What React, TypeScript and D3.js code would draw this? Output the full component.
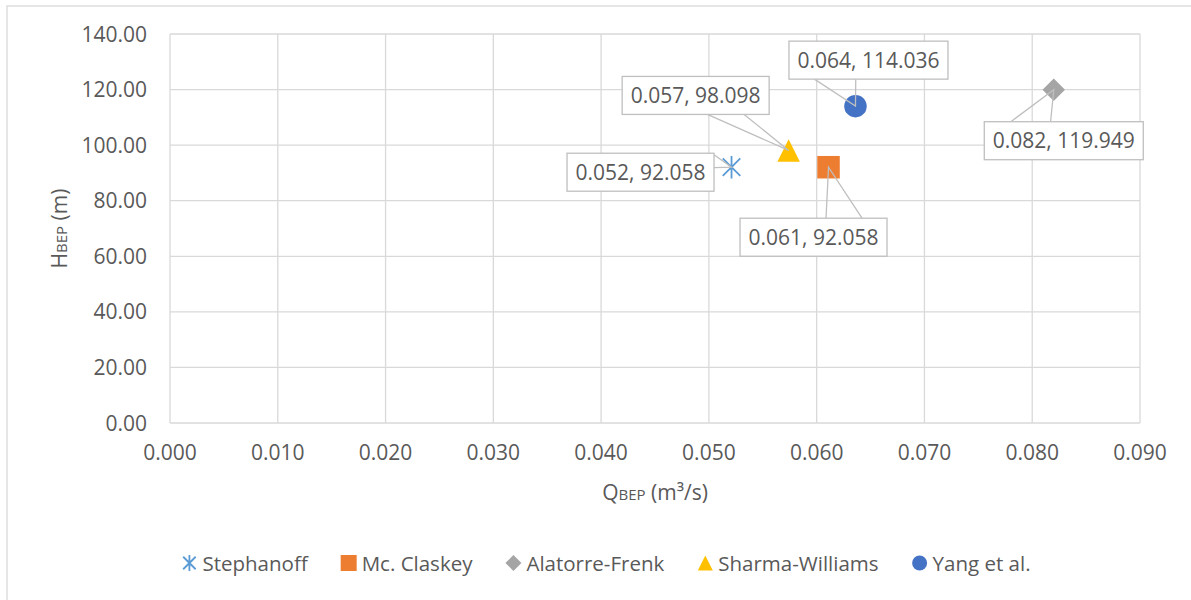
import * as d3 from 'd3';

// series (one point each)
const seriesNames = ['Stephanoff', 'Mc. Claskey', 'Alatorre-Frenk', 'Sharma-Williams', 'Yang et al.'];
const seriesColors = ['#5B9BD5', '#ED7D31', '#A5A5A5', '#FFC000', '#4472C4'];
const seriesShapes = ['star', 'square', 'diamond', 'triangle', 'circle'];
const qBep = [0.0521, 0.0611, 0.082, 0.0574, 0.0636];
const hBep = [92.058, 92.058, 119.949, 98.098, 114.036];

const xTicks = [0, 0.01, 0.02, 0.03, 0.04, 0.05, 0.06, 0.07, 0.08, 0.09];
const yTicks = [0, 20, 40, 60, 80, 100, 120, 140];

// callout placement: box centre offset from the point, wedge side and base fractions
const callouts = [
  { dx: -91, dy: 5, side: 'right', a: 0.04, b: 0.38 },
  { dx: -15, dy: 70, side: 'top', a: 0.585, b: 0.83 },
  { dx: 10, dy: 51, side: 'top', a: 0.167, b: 0.417 },
  { dx: -93, dy: -55, side: 'bottom', a: 0.58, b: 0.83 },
  { dx: 13, dy: -46, side: 'bottom', a: 0.16, b: 0.42 },
];

const W = 1191;
const H = 600;
const FONT = '"Open Sans", "Noto Sans", sans-serif';
const TEXT = '#595959';
const GRID = '#d9d9d9';

const plot = { left: 170, right: 1140, top: 34, bottom: 423 };

let ctx: CanvasRenderingContext2D | null = null;
function measure(text: string, size: number) {
  if (!ctx) ctx = document.createElement('canvas').getContext('2d');
  if (!ctx) return text.length * size * 0.55;
  ctx.font = `${size}px "Open Sans"`;
  return ctx.measureText(text).width;
}

function Marker({ shape, color, cx, cy, s }: { shape: string; color: string; cx: number; cy: number; s: number }) {
  const h = s / 2;
  if (shape === 'circle') return <circle cx={cx} cy={cy} r={h} fill={color} />;
  if (shape === 'square') return <rect x={cx - h} y={cy - h} width={s} height={s} fill={color} />;
  if (shape === 'diamond')
    return <path d={`M${cx},${cy - h}L${cx + h},${cy}L${cx},${cy + h}L${cx - h},${cy}Z`} fill={color} />;
  if (shape === 'triangle')
    return <path d={`M${cx},${cy - h}L${cx + h},${cy + h}L${cx - h},${cy + h}Z`} fill={color} />;
  const d = h * 0.78;
  return (
    <path
      d={`M${cx},${cy - h}V${cy + h}M${cx - d},${cy - d}L${cx + d},${cy + d}M${cx - d},${cy + d}L${cx + d},${cy - d}`}
      stroke={color}
      strokeWidth={1.8}
      fill="none"
    />
  );
}

export default function App() {
  const x = d3.scaleLinear().domain([0, 0.09]).range([plot.left, plot.right]);
  const y = d3.scaleLinear().domain([0, 140]).range([plot.bottom, plot.top]);

  const labelSize = 21;
  const boxH = 38;

  // legend layout
  const legendSize = 20.5;
  const items = seriesNames.map((n) => ({ n, w: 16 + 5 + measure(n, legendSize) }));
  const gap = 33;
  const total = d3.sum(items, (d) => d.w) + gap * (items.length - 1);
  let lx = 606 - total / 2;
  const legendPos = items.map((it) => {
    const p = lx;
    lx += it.w + gap;
    return p;
  });

  return (
    <div style={{ position: 'absolute', left: 0, top: 0 }}>
      <svg width={W} height={H} style={{ display: 'block', background: '#fff' }} fontFamily={FONT}>
        <rect x={7} y={6} width={W + 20} height={H + 20} fill="#fff" stroke={GRID} strokeWidth={1.3} />

        {/* grid */}
        {yTicks.map((t) => (
          <line key={'gy' + t} x1={plot.left} x2={plot.right} y1={y(t)} y2={y(t)} stroke={GRID} strokeWidth={1.3} />
        ))}
        {xTicks.map((t) => (
          <line key={'gx' + t} x1={x(t)} x2={x(t)} y1={plot.top} y2={plot.bottom} stroke={GRID} strokeWidth={1.3} />
        ))}

        {/* tick labels */}
        {yTicks.map((t) => (
          <text key={'ty' + t} x={147} y={y(t)} dy="0.36em" textAnchor="end" fontSize={21} fill={TEXT}>
            {t.toFixed(2)}
          </text>
        ))}
        {xTicks.map((t) => (
          <text key={'tx' + t} x={x(t)} y={460} textAnchor="middle" fontSize={21} fill={TEXT}>
            {t.toFixed(3)}
          </text>
        ))}

        {/* axis titles */}
        <text x={(plot.left + plot.right) / 2} y={500} textAnchor="middle" fontSize={21} fill={TEXT}>
          Q<tspan fontSize={15}>BEP</tspan> (m³/s)
        </text>
        <text
          transform={`translate(67,${(plot.top + plot.bottom) / 2}) rotate(-90)`}
          textAnchor="middle"
          fontSize={21}
          fill={TEXT}
        >
          H<tspan fontSize={15}>BEP</tspan> (m)
        </text>

        {/* points */}
        {seriesNames.map((n, i) => (
          <Marker key={'m' + n} shape={seriesShapes[i]} color={seriesColors[i]} cx={x(qBep[i])} cy={y(hBep[i])} s={22.5} />
        ))}

        {/* data callouts */}
        {seriesNames.map((n, i) => {
          const px = x(qBep[i]);
          const py = y(hBep[i]);
          const c = callouts[i];
          const label = `${qBep[i].toFixed(3)}, ${hBep[i].toFixed(3)}`;
          const bw = measure(label, labelSize) + 17;
          const bx = px + c.dx - bw / 2;
          const by = py + c.dy - boxH / 2;
          let b1: [number, number];
          let b2: [number, number];
          if (c.side === 'right') {
            b1 = [bx + bw, by + boxH * c.a];
            b2 = [bx + bw, by + boxH * c.b];
          } else if (c.side === 'top') {
            b1 = [bx + bw * c.a, by];
            b2 = [bx + bw * c.b, by];
          } else {
            b1 = [bx + bw * c.a, by + boxH];
            b2 = [bx + bw * c.b, by + boxH];
          }
          return (
            <g key={'c' + n}>
              <path
                d={`M${b1[0]},${b1[1]}L${px},${py}L${b2[0]},${b2[1]}`}
                fill="none"
                stroke="#bfbfbf"
                strokeWidth={1.3}
              />
              <rect x={bx} y={by} width={bw} height={boxH} fill="#fff" stroke="#bfbfbf" strokeWidth={1.3} />
              <text x={bx + bw / 2} y={by + boxH / 2} dy="0.36em" textAnchor="middle" fontSize={labelSize} fill={TEXT}>
                {label}
              </text>
            </g>
          );
        })}

        {/* legend */}
        {seriesNames.map((n, i) => (
          <g key={'l' + n}>
            <Marker
              shape={seriesShapes[i]}
              color={seriesColors[i]}
              cx={legendPos[i] + 8}
              cy={563}
              s={seriesShapes[i] === 'triangle' || seriesShapes[i] === 'circle' ? 15 : 16}
            />
            <text x={legendPos[i] + 21} y={571} fontSize={legendSize} fill={TEXT}>
              {n}
            </text>
          </g>
        ))}
      </svg>
    </div>
  );
}
